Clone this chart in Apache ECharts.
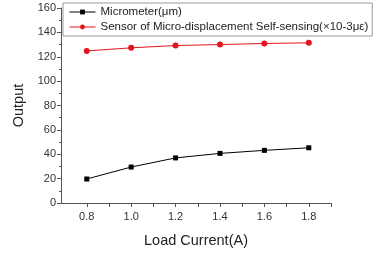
<!DOCTYPE html>
<html>
<head>
<meta charset="utf-8">
<script src="https://cdn.jsdelivr.net/npm/echarts@6/dist/echarts.min.js"></script>
<style>
html,body{margin:0;padding:0;background:#fff;}
#main{width:375px;height:254px;}
</style>
</head>
<body>
<div id="main"></div>
<script>
var currents = [0.8, 1.0, 1.2, 1.4, 1.6, 1.8];
var micrometer = [19.7, 29.5, 37, 40.7, 43.2, 45.3];
var sensor = [124.8, 127.3, 129.2, 130, 130.9, 131.4];
var names = ['Micrometer(μm)', 'Sensor of Micro-displacement Self-sensing(×10-3με)'];

function pairs(xs, ys) {
    var out = [];
    for (var i = 0; i < xs.length; i++) out.push([xs[i], ys[i]]);
    return out;
}

var myChart = echarts.init(document.getElementById('main'));
var font = 'Liberation Sans, Arial, sans-serif';
var option = {
    backgroundColor: '#fff',
    animation: false,
    textStyle: { fontFamily: font },
    legend: {
        orient: 'vertical',
        left: 63,
        top: 3,
        padding: [3, 4, 3, 6],
        itemGap: 3,
        itemWidth: 26,
        itemHeight: 6,
        borderColor: '#999',
        borderWidth: 1,
        lineStyle: { width: 1 },
        textStyle: { fontSize: 11.5, color: '#222', fontFamily: font },
        data: names
    },
    grid: { left: 61, top: 8, right: 44, bottom: 51 },
    xAxis: {
        type: 'value',
        min: 0.684,
        max: 1.9,
        interval: 0.1,
        name: 'Load Current(A)',
        nameLocation: 'middle',
        nameGap: 30,
        nameTextStyle: { fontSize: 14.5, color: '#222', fontFamily: font },
        axisLine: { lineStyle: { color: '#555', width: 1 } },
        axisTick: { show: true, length: 4, inside: false, lineStyle: { color: '#555' },
            customValues: [0.8, 0.9, 1.0, 1.1, 1.2, 1.3, 1.4, 1.5, 1.6, 1.7, 1.8, 1.9] },
        axisLabel: { fontSize: 11, color: '#333', margin: 8,
            customValues: currents,
            formatter: function (v) { return v.toFixed(1); } },
        splitLine: { show: false }
    },
    yAxis: {
        type: 'value',
        min: 0,
        max: 160,
        interval: 20,
        name: 'Output',
        nameLocation: 'middle',
        nameGap: 26,
        nameTextStyle: { fontSize: 14.5, color: '#222', fontFamily: font },
        axisLine: { show: true, lineStyle: { color: '#555', width: 1 } },
        axisTick: { show: true, length: 4, lineStyle: { color: '#555' } },
        minorTick: { show: true, splitNumber: 2, length: 2, lineStyle: { color: '#555' } },
        axisLabel: { fontSize: 11, color: '#333', margin: 5 },
        splitLine: { show: false }
    },
    series: [
        {
            name: names[0],
            type: 'line',
            symbol: 'rect',
            symbolSize: 5,
            itemStyle: { color: '#000' },
            lineStyle: { color: '#000', width: 1 },
            data: pairs(currents, micrometer)
        },
        {
            name: names[1],
            type: 'line',
            symbol: 'circle',
            symbolSize: 6,
            itemStyle: { color: '#e4141c' },
            lineStyle: { color: '#e4141c', width: 1 },
            data: pairs(currents, sensor)
        }
    ]
};
myChart.setOption(option);
</script>
</body>
</html>
